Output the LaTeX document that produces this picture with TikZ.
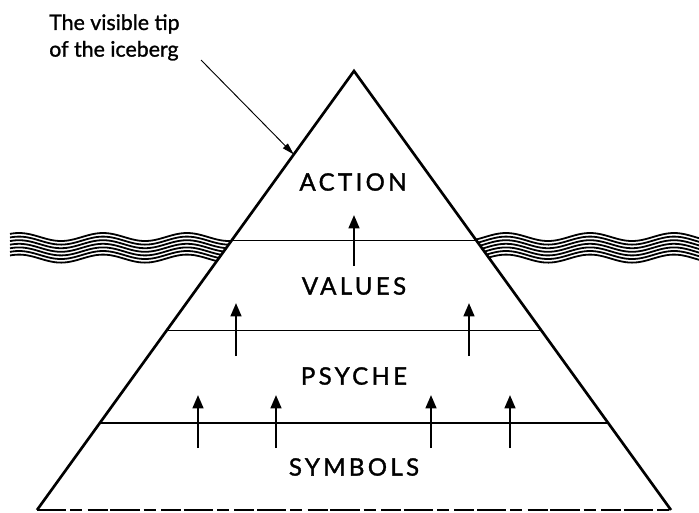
\documentclass[tikz,border=0pt]{standalone}
\usepackage{fontspec}
\setmainfont{Lato}[FakeBold=1.2,AutoFakeBold=1.2]
\newfontfamily\layerfont[LetterSpace=14,FakeBold=1.4]{Lato}
\usetikzlibrary{calc,arrows.meta}

\tikzset{
  layer/.style={font=\layerfont\fontsize{18}{20}\selectfont},
  push/.style={line width=1.8pt,-{Triangle[width=8pt,length=10pt]}},
  sea/.style={line width=1.35pt},
  edge/.style={line width=2pt},
  band/.style={line width=1.4pt},
}

\begin{document}
\begin{tikzpicture}[x=0.75pt,y=-0.75pt]
  \useasboundingbox (0,0) rectangle (699,512);
  \coordinate (apex) at (354,71);
  \coordinate (bl) at (37,510);
  \coordinate (br) at (671,510);

  % water on both sides
  \foreach \k in {0,...,6} {
    \draw[sea] plot[domain=10:250,samples=90] (\x,{237+3.6*\k-4*cos(4.2857*(\x-103))});
    \draw[sea] plot[domain=460:699,samples=90] (\x,{237+3.6*\k-4*cos(4.2857*(\x-590))});
  }

  % the iceberg
  \fill[white] (apex) -- (bl) -- (br) -- cycle;
  \draw[edge] (bl) -- (apex) -- (br);
  \draw[line width=0.8pt,dash pattern=on 22pt off 3pt on 9pt off 4pt on 15pt off 2pt] (bl) -- (br);
  \draw[band] ($(apex)!0.386!(bl)$) -- ($(apex)!0.386!(br)$);
  \draw[band] ($(apex)!0.591!(bl)$) -- ($(apex)!0.591!(br)$);
  \draw[band] ($(apex)!0.801!(bl)$) -- ($(apex)!0.801!(br)$);

  \node[layer] (action) at (353,182) {ACTION};
  \node[layer] (values) at (354,286) {VALUES};
  \node[layer] (psyche) at (354,376) {PSYCHE};
  \node[layer] (symbols) at (354,467) {SYMBOLS};

  % upward pushes
  \draw[push] (354,266) -- (354,215);
  \foreach \x in {236,469}
    \draw[push] (\x,356) -- (\x,303);
  \foreach \x in {198,276,431,510}
    \draw[push] (\x,448) -- (\x,395);

  % annotation
  \node[anchor=north west,align=left,inner sep=0pt,
        font=\fontsize{16}{20}\selectfont] (tip) at (49,14) {The visible tip\\of the iceberg};
  \coordinate (tipend) at ($(apex)!0.19!(bl)$);
  \draw[line width=0.7pt,-{Triangle[width=5pt,length=9pt]}] (201,60) -- (tipend);
\end{tikzpicture}
\end{document}
